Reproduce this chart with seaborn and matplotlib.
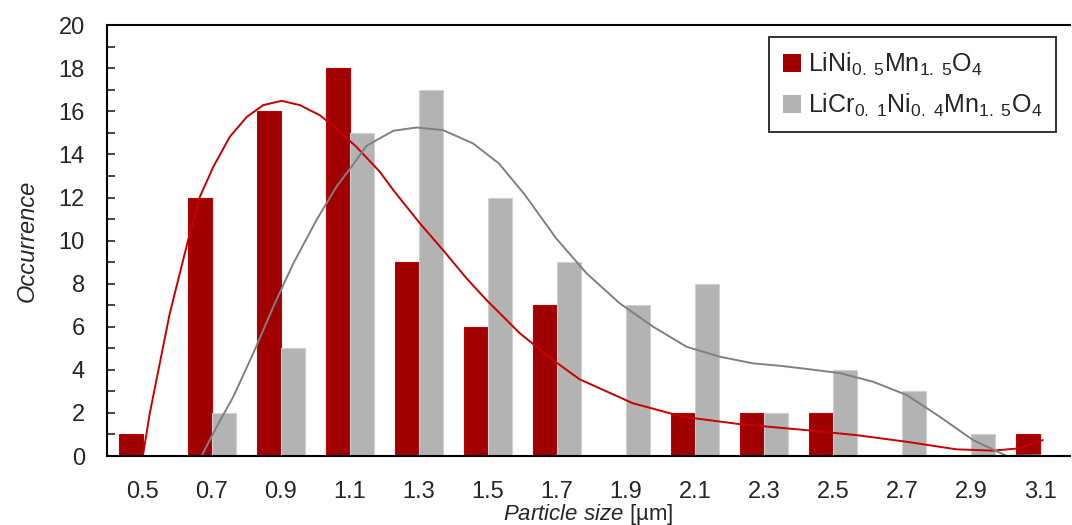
import matplotlib
matplotlib.use("Agg")
import matplotlib.pyplot as plt
import pandas as pd
import seaborn as sns

# particle size bins and counts
sizes = ["0.5", "0.7", "0.9", "1.1", "1.3", "1.5", "1.7", "1.9", "2.1", "2.3", "2.5", "2.7", "2.9", "3.1"]
lnmo_counts = [1, 12, 16, 18, 9, 6, 7, 0, 2, 2, 2, 0, 0, 1]
lcnmo_counts = [0, 2, 5, 15, 17, 12, 9, 7, 8, 2, 4, 3, 1, 0]

# smoothed distribution curves (size in um, occurrence)
lnmo_curve_x = [0.5, 0.52, 0.549, 0.578, 0.607, 0.636, 0.665, 0.704, 0.752, 0.801, 0.849, 0.902,
                0.955, 1.013, 1.061, 1.119, 1.187, 1.226, 1.303, 1.37, 1.438, 1.496, 1.593, 1.689,
                1.766, 1.92, 2.066, 2.23, 2.424, 2.568, 2.714, 2.858, 2.964, 3.042, 3.108]
lnmo_curve_y = [0.0, 1.98, 4.3, 6.62, 8.48, 10.33, 12.03, 13.42, 14.82, 15.74, 16.29, 16.49,
                16.29, 15.82, 15.2, 14.35, 13.19, 12.34, 10.8, 9.56, 8.25, 7.24, 5.69, 4.45,
                3.56, 2.45, 1.82, 1.48, 1.2, 0.97, 0.66, 0.31, 0.25, 0.36, 0.74]
lcnmo_curve_x = [0.67, 0.714, 0.762, 0.82, 0.878, 0.936, 1.003, 1.061, 1.119, 1.148, 1.226, 1.293,
                 1.37, 1.457, 1.532, 1.606, 1.698, 1.786, 1.882, 1.979, 2.076, 2.172, 2.269, 2.346,
                 2.42, 2.52, 2.616, 2.714, 2.81, 2.906, 3.004, 3.1]
lcnmo_curve_y = [0.0, 1.36, 2.75, 4.77, 6.93, 8.94, 10.95, 12.5, 13.74, 14.4, 15.1, 15.25,
                 15.13, 14.51, 13.58, 12.15, 10.1, 8.48, 7.09, 6.0, 5.07, 4.61, 4.3, 4.19,
                 4.05, 3.85, 3.45, 2.83, 1.82, 0.74, 0.0, 0.05]

lnmo_label = r"LiNi$_{0.\ 5}$Mn$_{1.\ 5}$O$_{4}$"
lcnmo_label = r"LiCr$_{0.\ 1}$Ni$_{0.\ 4}$Mn$_{1.\ 5}$O$_{4}$"

sns.set_style("white")
plt.rcParams['font.family'] = ['Liberation Sans', 'DejaVu Sans']
plt.rcParams['mathtext.fontset'] = 'custom'
plt.rcParams['mathtext.rm'] = 'Liberation Sans'
plt.rcParams['mathtext.it'] = 'Liberation Sans:italic'

df = pd.DataFrame({
    "size": sizes * 2,
    "count": lnmo_counts + lcnmo_counts,
    "sample": [lnmo_label] * len(sizes) + [lcnmo_label] * len(sizes),
})

fig = plt.figure(figsize=(10.72, 5.25), dpi=100)
ax = fig.add_axes([0.0998, 0.1314, 0.898, 0.8206])

sns.barplot(data=df, x="size", y="count", hue="sample", order=sizes,
            palette=["#A00000", "#B3B3B3"], saturation=1, width=0.7,
            edgecolor="none", ax=ax, legend=True)

# thin lighter outlines like the original
for cont, ec in zip(ax.containers, ["#C00000", "#D0D0D0"]):
    for p in cont:
        if p.get_height() > 0:
            p.set_edgecolor(ec)
            p.set_linewidth(0.8)

# curves drawn on the categorical positions
red_pos = [(v - 0.5) / 0.2 for v in lnmo_curve_x]
gray_pos = [(v - 0.5) / 0.2 for v in lcnmo_curve_x]
sns.lineplot(x=red_pos, y=lnmo_curve_y, color="#C80000", lw=1.4, ax=ax, legend=False, sort=False)
sns.lineplot(x=gray_pos, y=lcnmo_curve_y, color="#808080", lw=1.4, ax=ax, legend=False, sort=False)
for ln in ax.lines:
    ln.set_solid_joinstyle("round")

ax.set_xlim(-0.52, 13.43)
ax.set_ylim(0, 20)
ax.set_yticks(range(0, 21, 2))
ax.set_yticks(range(1, 20, 2), minor=True)
ax.tick_params(axis='y', which='both', direction='in', length=6, width=1.2, left=True, labelsize=17, pad=16)
ax.tick_params(axis='x', length=0, labelsize=17, pad=18)

for s in ["left", "bottom", "top"]:
    ax.spines[s].set_color("black")
    ax.spines[s].set_linewidth(1.5)
ax.spines["right"].set_visible(False)

ax.set_xlabel(r"$\it{Particle\ size}$ [µm]", fontsize=16, labelpad=-1)
ax.set_ylabel("Occurrence", fontsize=17, style="italic", labelpad=14)

leg = ax.legend(loc="upper right", bbox_to_anchor=(0.986, 0.973), fontsize=18,
                frameon=True, fancybox=False, edgecolor="black", handlelength=0.7,
                handleheight=0.7, handletextpad=0.3, borderpad=0.55, labelspacing=0.55,
                borderaxespad=0)
leg.get_frame().set_linewidth(1.4)

fig.savefig("out.png", dpi=100)
